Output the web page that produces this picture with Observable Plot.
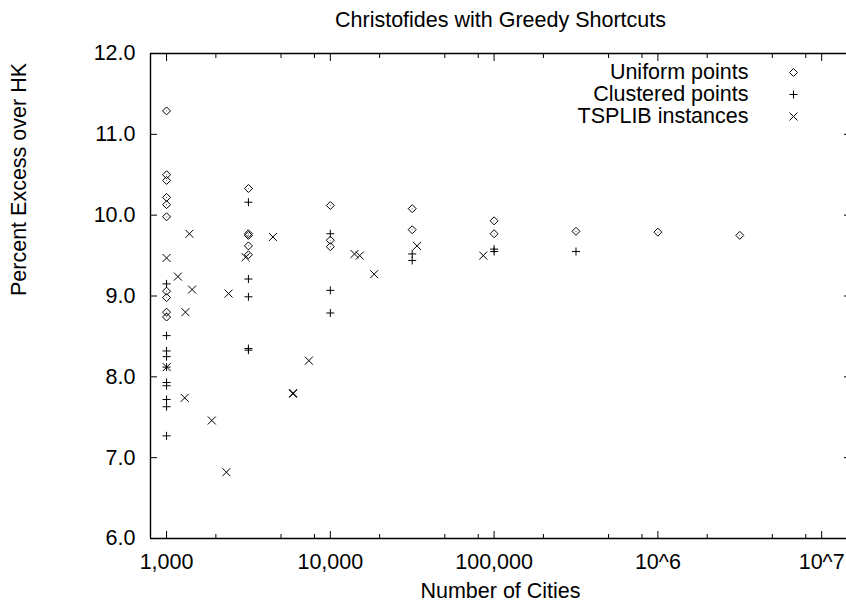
<!DOCTYPE html>
<html><head><meta charset="utf-8">
<script src="https://cdn.jsdelivr.net/npm/d3@7"></script>
<script src="https://cdn.jsdelivr.net/npm/@observablehq/plot@0.6"></script>
<style>body{margin:0;background:#fff} svg{display:block}</style>
</head><body><div id="chart"></div>
<script>
// ---- data ----
const chartTitle = "Christofides with Greedy Shortcuts";
const xLabel = "Number of Cities";
const yLabel = "Percent Excess over HK";
const seriesNames = ["Uniform points", "Clustered points", "TSPLIB instances"];

const uniformN = [1000,1000,1000,1000,1000,1000,1000,1000,1000,1000,
  3162,3162,3162,3162,3162, 10000,10000,10000, 31623,31623, 100000,100000,
  316228, 1000000, 3162278];
const uniformV = [11.29,10.50,10.43,10.22,10.13,9.98,9.06,8.98,8.80,8.74,
  10.33,9.77,9.75,9.62,9.51, 10.12,9.69,9.61, 10.08,9.82, 9.93,9.77,
  9.80, 9.79, 9.75];

const clusteredN = [1000,1000,1000,1000,1000,1000,1000,1000,1000,1000,
  3162,3162,3162,3162,3162, 10000,10000,10000, 31623,31623, 100000,100000, 316228];
const clusteredV = [9.15,8.51,8.32,8.25,8.12,7.93,7.89,7.72,7.63,7.27,
  10.16,9.21,8.99,8.35,8.33, 9.77,9.07,8.79, 9.52,9.44, 9.58,9.55, 9.55];

const tsplibN = [1000,1002,1173,1291,1304,1379,1432,1889,2319,2392,3038,4461,5915,5934,7397,14051,15112,18512,33810,85900];
const tsplibV = [9.47,8.12,9.24,7.74,8.80,9.77,9.08,7.46,6.82,9.03,9.48,9.73,7.79,7.80,8.20,9.52,9.50,9.27,9.62,9.50];

const xMajorTicks = [1e3, 1e4, 1e5, 1e6, 1e7];
const xTickLabels = ["1,000", "10,000", "100,000", "10^6", "10^7"];
const xMinorTicks = [2e3,5e3,8e3, 2e4,5e4,8e4, 2e5,5e5,8e5, 2e6,5e6,8e6];
const yTicks = [6, 7, 8, 9, 10, 11, 12];
const xDomain = [798, 1.5e7];
const yDomain = [6, 12];

// ---- symbols (gnuplot-like) ----
const rad = (size) => Math.sqrt(size / Math.PI);
const symDiamond = {draw(ctx, size) { const r = rad(size);
  ctx.moveTo(0, -r); ctx.lineTo(r, 0); ctx.lineTo(0, r); ctx.lineTo(-r, 0); ctx.closePath(); }};
const symPlus = {draw(ctx, size) { const r = rad(size);
  ctx.moveTo(-r, 0); ctx.lineTo(r, 0); ctx.moveTo(0, -r); ctx.lineTo(0, r); }};
const symTimes = {draw(ctx, size) { const r = rad(size);
  ctx.moveTo(-r, -r); ctx.lineTo(r, r); ctx.moveTo(-r, r); ctx.lineTo(r, -r); }};
const seriesSymbols = [symDiamond, symPlus, symTimes];

const toRows = (ns, vs) => ns.map((n, i) => ({n, v: vs[i]}));
const uniform = toRows(uniformN, uniformV);
const clustered = toRows(clusteredN, clusteredV);
const tsplib = toRows(tsplibN, tsplibV);

const font = "'Liberation Sans', Arial, Helvetica, sans-serif";
const FS = 21.5;
const dotOpts = {x: "n", y: "v", r: 4, fill: "none", stroke: "black", strokeWidth: 1};

const legendMarks = seriesNames.flatMap((name, i) => [
  Plot.text([name], {frameAnchor: "top-right", dx: -98, dy: 19 + 22 * i, textAnchor: "end", lineAnchor: "middle", fontSize: FS, fill: "black"}),
  Plot.dot([name], {frameAnchor: "top-right", dx: -53, dy: 19 + 22 * i, symbol: seriesSymbols[i], r: 4, fill: "none", stroke: "black", strokeWidth: 1})
]);

const chart = Plot.plot({
  width: 846, height: 602,
  marginLeft: 150, marginTop: 53, marginBottom: 64, marginRight: 0,
  style: {fontFamily: font, fontSize: FS + "px", background: "#fff", color: "#000", overflow: "hidden"},
  x: {type: "log", domain: xDomain, range: [150, 850]},
  y: {domain: yDomain},
  marks: [
    // tick labels
    Plot.axisX(xMajorTicks, {anchor: "bottom", tickSize: 0, tickPadding: 15, label: null, fontSize: FS,
      tickFormat: d => xTickLabels[xMajorTicks.indexOf(d)]}),
    Plot.axisY(yTicks, {anchor: "left", tickSize: 0, tickPadding: 15, label: null, fontSize: FS, tickFormat: d3.format(".1f")}),
    // inward ticks on all sides
    Plot.axisX(xMajorTicks, {anchor: "bottom", tickSize: -7, fill: "none", label: null}),
    Plot.axisX(xMinorTicks, {anchor: "bottom", tickSize: -4, fill: "none", label: null}),
    Plot.axisX(xMajorTicks, {anchor: "top", tickSize: -7, fill: "none", label: null}),
    Plot.axisX(xMinorTicks, {anchor: "top", tickSize: -4, fill: "none", label: null}),
    Plot.axisY(yTicks, {anchor: "left", tickSize: -7, fill: "none", label: null}),
    Plot.axisY(yTicks, {anchor: "right", tickSize: -7, fill: "none", label: null, dx: 4}),
    // border (left, top, bottom)
    Plot.ruleY(yDomain, {stroke: "black", strokeWidth: 1.4}),
    Plot.ruleX([xDomain[0]], {stroke: "black", strokeWidth: 1.4}),
    // data
    Plot.dot(uniform, {...dotOpts, symbol: symDiamond}),
    Plot.dot(uniform, {x: "n", y: "v", r: 0.6, fill: "#777", stroke: "none"}),
    Plot.dot(clustered, {...dotOpts, symbol: symPlus}),
    Plot.dot(tsplib, {...dotOpts, symbol: symTimes}),
    // legend
    ...legendMarks,
    // titles
    Plot.text([chartTitle], {frameAnchor: "top", dx: 2, dy: -42, lineAnchor: "top", fontSize: FS, fill: "black"}),
    Plot.text([xLabel], {frameAnchor: "bottom", dx: 2, dy: 44, lineAnchor: "top", fontSize: FS, fill: "black"}),
    Plot.text([yLabel], {frameAnchor: "left", dx: -131, rotate: -90, lineAnchor: "middle", fontSize: FS, fill: "black"})
  ]
});
document.getElementById("chart").appendChild(chart);
</script></body></html>
